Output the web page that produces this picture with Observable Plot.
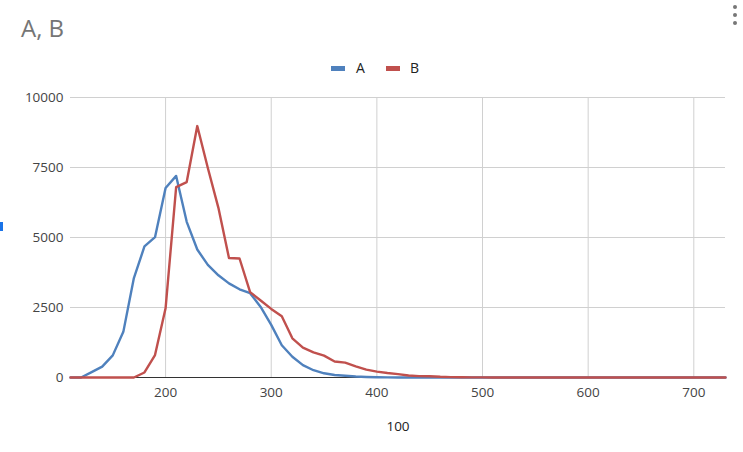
<!DOCTYPE html>
<html>
<head>
<meta charset="utf-8">
<script src="https://cdn.jsdelivr.net/npm/d3@7"></script>
<script src="https://cdn.jsdelivr.net/npm/@observablehq/plot@0.6"></script>
<style>
  body { margin: 0; background: #fff; font-family: "Open Sans", sans-serif; }
  #wrap { position: relative; width: 743px; height: 452px; overflow: hidden; }
  #head { position: relative; height: 85px; }
  #title { position: absolute; left: 21px; top: 14px; font-size: 24px; color: #757575; line-height: 1.2; }
  #legend { position: absolute; top: 58px; left: 0; width: 743px; height: 20px; }
  .item { position: absolute; top: 0; font-size: 14px; color: #222; line-height: 20px; }
  .sw { position: absolute; top: 8px; width: 14px; height: 5px; }
  #menu { position: absolute; right: 6px; top: 5px; width: 4px; }
  #menu div { width: 4px; height: 4px; border-radius: 2px; background: #777; margin-bottom: 4px; }
  #mark { position: absolute; left: 0; top: 222px; width: 3px; height: 9px; background: #1a73e8; }
</style>
</head>
<body>
<div id="wrap">
  <div id="head">
    <div id="title">A, B</div>
    <div id="legend"></div>
    <div id="menu"><div></div><div></div><div></div></div>
  </div>
  <div id="chart"></div>
  <div id="mark"></div>
</div>
<script>
const seriesNames = ["A", "B"];
const seriesColors = ["#4F81BD", "#C0504D"];
const xValues = [110,120,130,140,150,160,170,180,190,200,210,220,230,240,250,260,270,280,290,300,
  310,320,330,340,350,360,370,380,390,400,410,420,430,440,450,460,470,480,490,500,
  510,520,530,540,550,560,570,580,590,600,610,620,630,640,650,660,670,680,690,700,710,720,730];
const seriesA = [0,0,190,390,790,1630,3550,4680,5010,6770,7200,5560,4570,4020,3650,3360,3150,3010,2520,1880,
  1150,740,440,260,150,90,60,35,20,10,5,0,0,0,0,0,0,0,0,0,
  0,0,0,0,0,0,0,0,0,0,0,0,0,0,0,0,0,0,0,0,0,0,0];
const seriesB = [0,0,0,0,0,0,0,180,800,2470,6800,6980,8980,7480,6060,4270,4250,3050,2750,2450,
  2190,1400,1070,900,780,570,530,400,280,210,160,120,70,50,45,25,15,8,5,3,
  0,0,0,0,0,0,0,0,0,0,0,0,0,0,0,0,0,0,0,0,0,0,0];
const xTicks = [200,300,400,500,600,700];
const yTicks = [0,2500,5000,7500,10000];
const xAxisTitle = "100";

const data = [
  ...xValues.map((x, i) => ({x, y: seriesA[i], series: seriesNames[0]})),
  ...xValues.map((x, i) => ({x, y: seriesB[i], series: seriesNames[1]}))
];

// legend
const legend = document.getElementById("legend");
const legendPos = [[331, 356], [386, 410]];
seriesNames.forEach((name, i) => {
  const sw = document.createElement("div");
  sw.className = "sw";
  sw.style.left = legendPos[i][0] + "px";
  sw.style.background = seriesColors[i];
  legend.appendChild(sw);
  const t = document.createElement("div");
  t.className = "item";
  t.style.left = legendPos[i][1] + "px";
  t.textContent = name;
  legend.appendChild(t);
});

const chart = Plot.plot({
  width: 743,
  height: 367,
  marginLeft: 70,
  marginRight: 18,
  marginTop: 12,
  marginBottom: 75,
  x: {domain: [110, 730]},
  y: {domain: [0, 10000]},
  color: {domain: seriesNames, range: seriesColors},
  style: {fontFamily: "Open Sans", fontSize: "13.5px", color: "#444", background: "#fff"},
  marks: [
    Plot.gridY(yTicks, {stroke: "#d0d0d0", strokeOpacity: 1}),
    Plot.gridX(xTicks, {stroke: "#d0d0d0", strokeOpacity: 1}),
    Plot.axisY(yTicks, {tickSize: 0, tickPadding: 7, label: null, tickFormat: d => String(d), fill: "#444"}),
    Plot.axisX(xTicks, {tickSize: 0, tickPadding: 10, label: null, tickFormat: d => String(d), fill: "#444"}),
    Plot.ruleY([0], {stroke: "#333", strokeWidth: 1}),
    Plot.line(data, {x: "x", y: "y", z: "series", stroke: "series", strokeWidth: 2.4}),
    Plot.text([xAxisTitle], {frameAnchor: "bottom", dy: 53, text: d => d, fill: "#222", fontSize: 13.5})
  ]
});
document.getElementById("chart").appendChild(chart);
</script>
</body>
</html>
